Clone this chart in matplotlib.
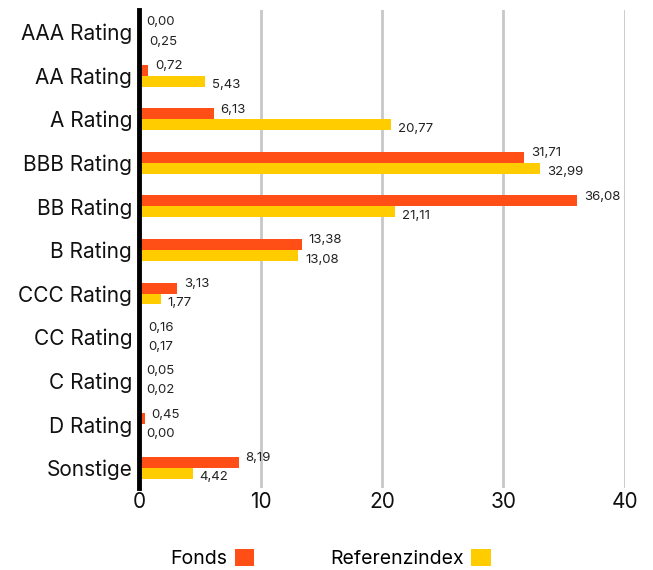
import matplotlib.pyplot as plt
import numpy as np

categories = ['AAA Rating', 'AA Rating', 'A Rating', 'BBB Rating', 'BB Rating', 'B Rating',
              'CCC Rating', 'CC Rating', 'C Rating', 'D Rating', 'Sonstige']
fonds = [0.00, 0.72, 6.13, 31.71, 36.08, 13.38, 3.13, 0.16, 0.05, 0.45, 8.19]
referenz = [0.25, 5.43, 20.77, 32.99, 21.11, 13.08, 1.77, 0.17, 0.02, 0.00, 4.42]

plt.rcParams['font.family'] = ['Inter', 'DejaVu Sans']

fig = plt.figure(figsize=(6.53, 5.70), dpi=100)
ax = fig.add_axes([0.213, 0.144, 0.744, 0.838])

y = np.arange(len(categories))
h = 0.25
ax.barh(y - h / 2, fonds, height=h, color='#ff4f17', label='Fonds', zorder=3)
ax.barh(y + h / 2, referenz, height=h, color='#ffcc00', label='Referenzindex', zorder=3)

# value labels: fonds above, referenz below
for i in range(len(categories)):
    ax.annotate(f'{fonds[i]:.2f}'.replace('.', ','), (fonds[i], y[i] - h / 2),
                xytext=(5, 3), textcoords='offset points', va='center', ha='left',
                fontsize=9.5, color='#222222')
    ax.annotate(f'{referenz[i]:.2f}'.replace('.', ','), (referenz[i], y[i] + h / 2),
                xytext=(5, -3), textcoords='offset points', va='center', ha='left',
                fontsize=9.5, color='#222222')

ax.set_yticks(y)
ax.set_yticklabels(categories, fontsize=15, color='#111111')
ax.set_ylim(10.46, -0.5)
ax.set_xlim(0, 40)
ax.set_xticks([0, 10, 20, 30, 40])
ax.tick_params(axis='x', labelsize=15, length=0, pad=3, colors='#111111')
ax.tick_params(axis='y', length=0, pad=5)

ax.grid(axis='x', color='#c8c8c8', linewidth=2, zorder=0)
for s in ['top', 'right', 'bottom']:
    ax.spines[s].set_visible(False)
ax.spines['left'].set_linewidth(3.5)
ax.spines['left'].set_color('black')
ax.spines['left'].set_zorder(4)

fig.legend(loc='center', bbox_to_anchor=(0.506, 0.02), ncol=2, frameon=False,
           markerfirst=False, fontsize=14, handlelength=1.0, handleheight=1.0,
           columnspacing=3.9, handletextpad=0.4)

fig.savefig('out.png', dpi=100)
